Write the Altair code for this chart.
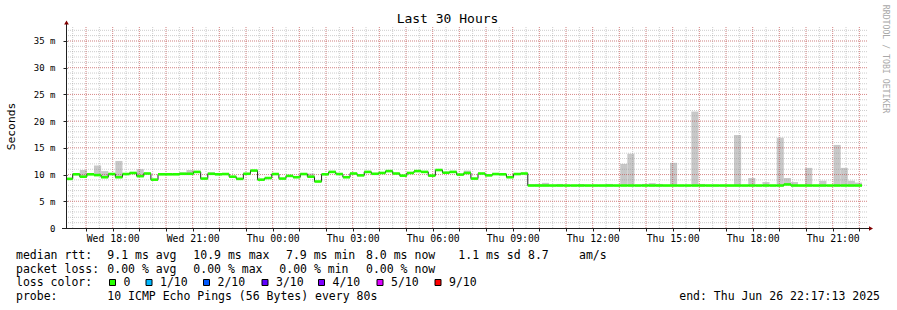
import altair as alt
import pandas as pd

# ---------------- data ----------------
TITLE = "Last 30 Hours"
Y_TITLE = "Seconds"
WATERMARK = "RRDTOOL / TOBI OETIKER"

FIRST_STEP = "2025-06-25 16:14:00"   # start of first (clipped) 16-minute consolidation step
STEP = "16min"

# median RTT (ms) per 16-minute step
median_ms = [
    9.2,
    10.05, 9.6, 10.05, 9.9, 9.5, 10.1, 9.5, 10.1, 10.3, 9.7,
    10.2, 9.05, 10.05, 10.05, 10.05, 10.15, 10.15, 10.5, 9.25, 10.15,
    10.05, 10.1, 9.6, 9.2, 10.15, 10.75, 9.05, 9.35, 10.1, 9.25,
    9.75, 9.5, 10.1, 9.6, 8.7, 10.05, 10.5, 10.1, 9.5, 10.2,
    9.85, 10.5, 10.15, 10.3, 10.65, 10.2, 9.8, 10.3, 10.65, 10.5,
    9.8, 10.85, 10.35, 10.5, 10.0, 10.3, 9.25, 10.2, 9.85, 10.1,
    10.05, 9.5, 10.1, 10.2,
    7.95, 7.95, 7.95, 7.95, 7.95, 7.95, 7.95, 7.95, 7.95, 7.95,
    7.95, 7.95, 7.95, 7.95, 7.95, 7.95, 7.95, 7.95, 7.95, 7.95,
    7.95, 7.95, 7.95, 7.95, 7.95, 7.95, 7.95, 7.95, 7.95, 7.95,
    7.95, 7.95, 7.95, 7.95, 7.95, 7.95, 8.15, 7.95, 7.95, 7.95,
    7.95, 7.95, 7.95, 7.95, 7.95, 7.95, 7.95,
]

# smoke (max ping, ms) for the steps where it shows above the median
smoke_steps = [1, 3, 4, 6, 9, 15, 16, 19, 33, 55,
               64, 65, 66, 68, 71, 75, 77, 78, 80, 81,
               82, 84, 87, 88, 93, 95, 97, 99, 100, 101,
               103, 105, 107, 108, 109, 110]
smoke_tops = [10.85, 11.7, 10.65, 12.55, 11.0, 10.4, 10.85, 10.4, 10.2, 10.75,
              8.2, 8.25, 8.45, 8.25, 8.25, 8.25, 12.0, 13.9, 8.25, 8.4,
              8.25, 12.2, 21.8, 8.25, 17.4, 9.35, 8.6, 16.9, 9.35, 8.6,
              11.25, 8.85, 15.55, 11.25, 8.85, 8.5]

y_label_values = [0, 5, 10, 15, 20, 25, 30, 35]
y_minor_values = list(range(1, 38))
x_minor_times = pd.date_range("2025-06-25 16:30", "2025-06-26 22:00", freq="30min")
x_major_times = pd.date_range("2025-06-25 17:00", "2025-06-26 22:00", freq="60min")

line1 = ["median rtt:", "9.1 ms avg", "10.9 ms max", "7.9 ms min", "8.0 ms now",
         "1.1 ms sd", "8.7", "am/s"]
line2 = ["packet loss:", "0.00 % avg", "0.00 % max", "0.00 % min", "0.00 % now"]
loss_head = "loss color:"
loss_labels = ["0", "1/10", "2/10", "3/10", "4/10", "5/10", "9/10"]
loss_colors = ["#26ff00", "#00b8ff", "#0059ff", "#5e00ff", "#7e00ff", "#dd00ff", "#ff0000"]
line4 = ["probe:", "10 ICMP Echo Pings (56 Bytes) every 80s"]
END_TEXT = "end: Thu Jun 26 22:17:13 2025"

# ---------------- layout ----------------
W, H = 800, 201
PAD_L, PAD_T = 67, 27
FONT = "DejaVu Sans Mono"
Y_MAX = 37.62

dt_start = alt.DateTime(year=2025, month=6, date=25, hours=16, minutes=17, seconds=13)
dt_end = alt.DateTime(year=2025, month=6, date=26, hours=22, minutes=17, seconds=13)
xscale = alt.Scale(domain=[dt_start, dt_end], nice=False)
yscale = alt.Scale(domain=[0, Y_MAX], nice=False, zero=False)


def iso(t):
    return t.strftime("%Y-%m-%dT%H:%M:%S")


times = pd.date_range(FIRST_STEP, periods=len(median_ms) + 1, freq=STEP)
steps_df = pd.DataFrame({
    "start": [iso(t) for t in times[:-1]],
    "end": [iso(t) for t in times[1:]],
    "median": median_ms,
})
line_df = pd.DataFrame({
    "start": [iso(t) for t in times],
    "median": median_ms + [median_ms[-1]],
})
smoke_df = pd.DataFrame({
    "start": [iso(times[s + 1]) for s in smoke_steps],
    "end": [iso(times[s + 2]) for s in smoke_steps],
    "median": [median_ms[s + 1] for s in smoke_steps],
    "high": smoke_tops,
})
xminor_df = pd.DataFrame({"start": [iso(t) for t in x_minor_times]})
xmajor_df = pd.DataFrame({"start": [iso(t) for t in x_major_times]})
yminor_df = pd.DataFrame({"median": y_minor_values})
ymajor_df = pd.DataFrame({"median": y_label_values[1:]})

one = pd.DataFrame({"k": [0]})


def text(s, ax, ay, size=11.5, align="left", baseline="alphabetic", color="black", angle=0):
    kw = dict(font=FONT, fontSize=size, align=align, baseline=baseline, color=color)
    if angle:
        kw["angle"] = angle
    return alt.Chart(one).mark_text(**kw).encode(
        x=alt.value(ax - PAD_L), y=alt.value(ay - PAD_T), text=alt.value(s))


x_axis_values = [alt.DateTime(year=t.year, month=t.month, date=t.day, hours=t.hour) for t in x_major_times]
x_axis = alt.Axis(
    values=x_axis_values, title=None, domain=False, grid=False,
    labelExpr="hours(datum.value) % 3 == 0 ? timeFormat(datum.value, '%a %H:%M') : ''",
    labelFont=FONT, labelFontSize=9.8, labelColor="black", labelPadding=2,
    tickSize=3, tickColor="#202020", labelOverlap=False, labelFlush=False, labelBound=False)
y_axis = alt.Axis(
    values=y_label_values, title=None, domain=False, grid=False,
    labelExpr="datum.value == 0 ? '0\u00a0' : datum.value + ' m'",
    labelFont=FONT, labelFontSize=9, labelColor="black", labelPadding=8,
    tickSize=4, tickColor="#202020")

X = alt.X("start:T", scale=xscale, axis=x_axis)
Y = alt.Y("median:Q", scale=yscale, axis=y_axis)

smoke = alt.Chart(smoke_df).mark_rect(color="#c8c8c8", clip=True).encode(
    x=X, x2="end:T", y=Y, y2="high:Q")

gx_minor = alt.Chart(xminor_df).mark_rule(color="#8f8f8f", opacity=0.45, strokeDash=[1, 1], strokeWidth=1).encode(x=X)
gy_minor = alt.Chart(yminor_df).mark_rule(color="#8f8f8f", opacity=0.45, strokeDash=[1, 1], strokeWidth=1).encode(y=Y)
gx_major = alt.Chart(xmajor_df).mark_rule(color="#f00000", opacity=0.33, strokeDash=[1, 1], strokeWidth=1).encode(x=X)
gy_major = alt.Chart(ymajor_df).mark_rule(color="#f00000", opacity=0.33, strokeDash=[1, 1], strokeWidth=1).encode(y=Y)

median_line = alt.Chart(line_df).mark_line(
    interpolate="step-after", color="#202020", strokeWidth=1, clip=True).encode(x=X, y=Y)

median_green = alt.Chart(steps_df).mark_rule(color="#26ff00", strokeWidth=2.6, clip=True).encode(
    x=X, x2="end:T", y=Y)

axis_x = alt.Chart(one).mark_rule(color="#202020", strokeWidth=1).encode(
    x=alt.value(-5), x2=alt.value(803), y=alt.value(H + 0.5))
axis_y = alt.Chart(one).mark_rule(color="#202020", strokeWidth=1).encode(
    x=alt.value(-0.5), y=alt.value(-4), y2=alt.value(H + 1))
arrow_x = alt.Chart(one).mark_point(shape="triangle-right", filled=True, size=22, color="#800000", opacity=1).encode(
    x=alt.value(804), y=alt.value(H + 0.5))
arrow_y = alt.Chart(one).mark_point(shape="triangle-up", filled=True, size=22, color="#800000", opacity=1).encode(
    x=alt.value(-0.5), y=alt.value(-4.5))

texts = [
    text(TITLE, 447.5, 23.3, size=13, align="center"),
    text(Y_TITLE, 14.5, 126.5, size=11.3, align="center", angle=270),
    text(WATERMARK, 883, 59, size=8.2, align="center", color="#a8a8a8", angle=90),
]

l1_x = [16, 107.3, 193.3, 286, 366, 458.3, 528, 579]
for s, x in zip(line1, l1_x):
    texts.append(text(s, x, 258.5))
l2_x = [16, 107.3, 193.3, 279.3, 366]
for s, x in zip(line2, l2_x):
    texts.append(text(s, x, 272.5))
texts.append(text(loss_head, 16, 286.4))
box_x = [109.5, 146, 203.5, 262, 318.5, 377, 435]
boxes = []
for lab, col, bx in zip(loss_labels, loss_colors, box_x):
    boxes.append(alt.Chart(one).mark_rect(color=col, stroke="black", strokeWidth=1).encode(
        x=alt.value(bx - PAD_L), x2=alt.value(bx + 6 - PAD_L),
        y=alt.value(279.5 - PAD_T), y2=alt.value(285.5 - PAD_T)))
    texts.append(text(lab, bx + 14, 286.4))
texts.append(text(line4[0], 16, 300.3))
texts.append(text(line4[1], 107.3, 300.3))
texts.append(text(END_TEXT, 880, 300.3, align="right"))

chart = alt.layer(
    smoke, gx_minor, gy_minor, gx_major, gy_major,
    median_line, median_green,
    axis_x, axis_y, arrow_x, arrow_y,
    *boxes, *texts,
).properties(
    width=W, height=H,
    autosize=alt.AutoSizeParams(type="none"),
    padding={"left": PAD_L, "top": PAD_T, "right": 897 - PAD_L - W, "bottom": 310 - PAD_T - H},
    background="white",
).configure_view(stroke=None)

chart.save("out.html", embed_options={"renderer": "svg", "actions": False})
